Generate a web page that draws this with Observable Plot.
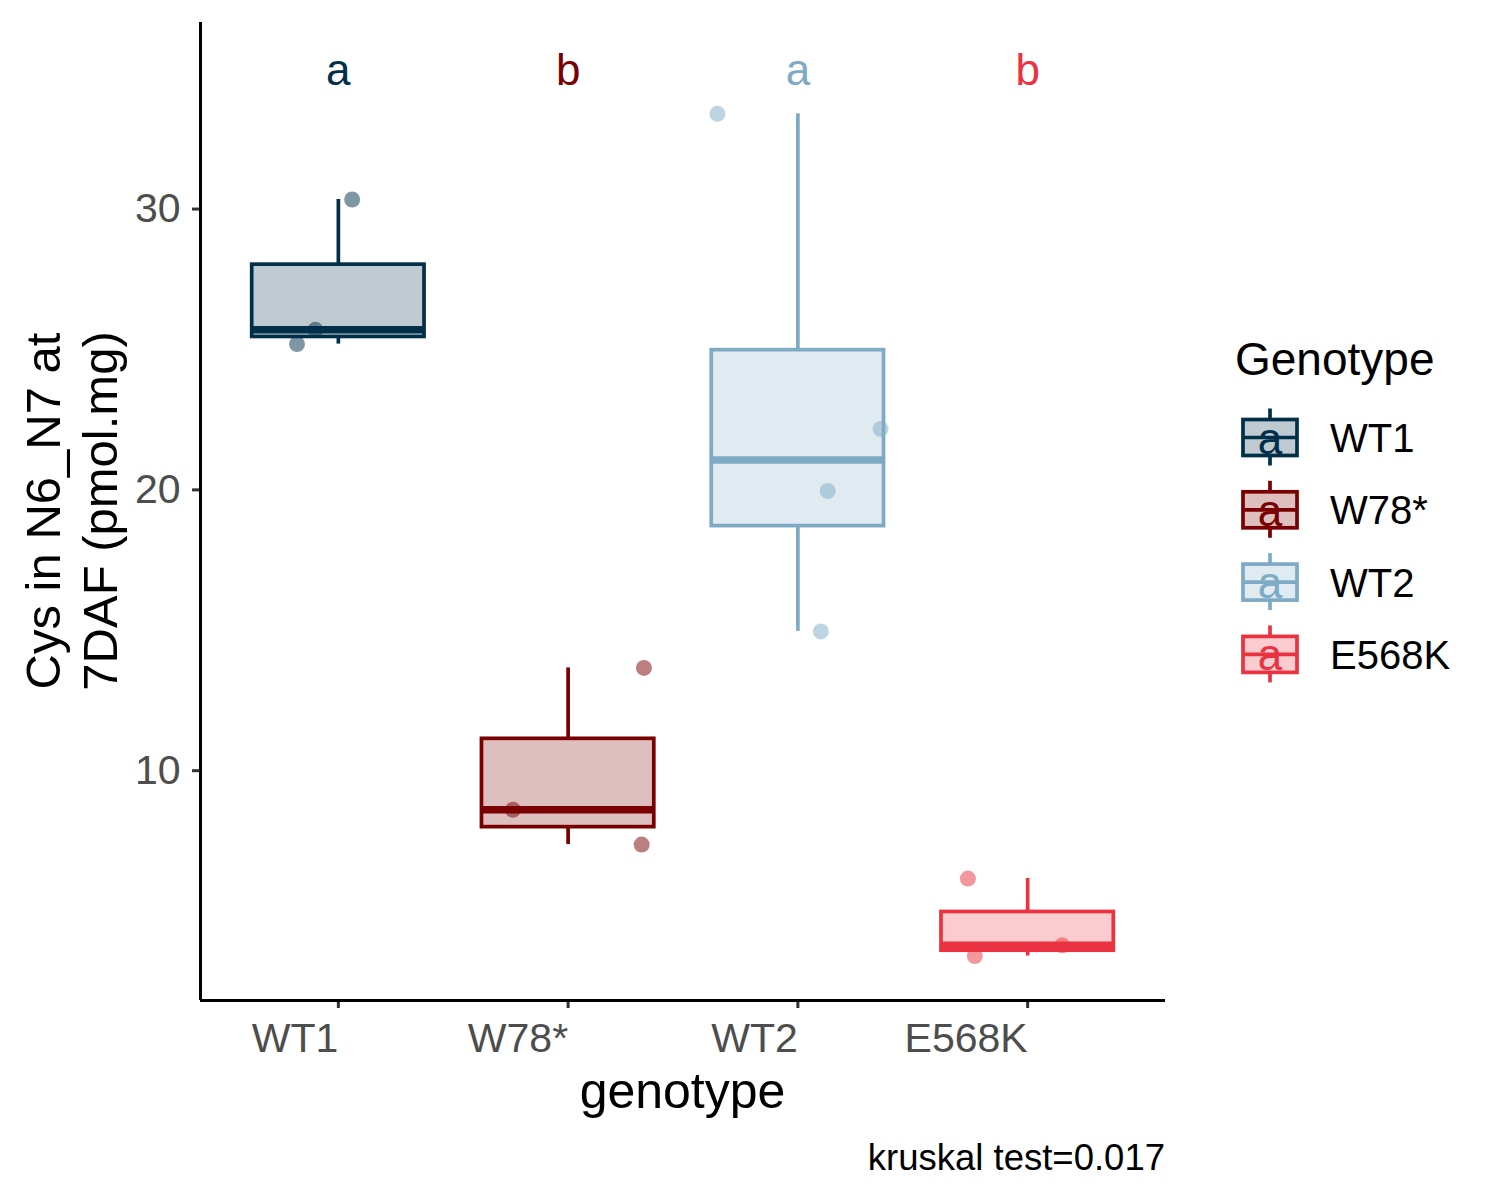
<!DOCTYPE html>
<html>
<head>
<meta charset="utf-8">
<script src="https://cdn.jsdelivr.net/npm/d3@7"></script>
<script src="https://cdn.jsdelivr.net/npm/@observablehq/plot@0.6"></script>
<style>
  html, body { margin: 0; padding: 0; background: white; }
  #chart { width: 1500px; height: 1200px; overflow: hidden; }
</style>
</head>
<body>
<div id="chart"></div>
<script>
// ---- data ----
const genotypes = ["WT1", "W78*", "WT2", "E568K"];
const colors = ["#003049", "#780000", "#7eaac6", "#ea3240"];
const letters = ["a", "b", "a", "b"];
const pointGenotype = ["WT1","WT1","WT1","W78*","W78*","W78*","WT2","WT2","WT2","WT2","E568K","E568K","E568K"];
const pointValue = [30.34, 25.70, 25.19, 13.66, 8.61, 7.37, 33.39, 22.17, 19.96, 14.96, 6.16, 3.78, 3.40];
const pointJitter = [0.06, -0.10, -0.18, 0.33, -0.24, 0.32, -0.35, 0.36, 0.13, 0.10, -0.26, 0.15, -0.23];
const yTicks = [10, 20, 30];
const xTitle = "genotype";
const yTitleLines = ["Cys in N6_N7 at", "7DAF (pmol.mg)"];
const legendTitle = "Genotype";
const caption = "kruskal test=0.017";

// ---- derived tables ----
const points = pointValue.map((v, k) => ({
  genotype: pointGenotype[k],
  idx: genotypes.indexOf(pointGenotype[k]) + 1,
  value: v,
  jitter: pointJitter[k]
}));
const stats = genotypes.map((g, i) => {
  const vals = points.filter(p => p.genotype === g).map(p => p.value).sort(d3.ascending);
  const q1 = d3.quantile(vals, 0.25), med = d3.quantile(vals, 0.5), q3 = d3.quantile(vals, 0.75);
  const iqr = q3 - q1;
  const lo = d3.min(vals.filter(v => v >= q1 - 1.5 * iqr));
  const hi = d3.max(vals.filter(v => v <= q3 + 1.5 * iqr));
  return {genotype: g, idx: i + 1, q1, med, q3, lo, hi};
});
const labelY = d3.max(pointValue) * 1.05;
const labels = genotypes.map((g, i) => ({genotype: g, idx: i + 1, letter: letters[i], y: labelY}));
const yMin = d3.min(pointValue), yMax = labelY;
const yPad = (yMax - yMin) * 0.05;
const yDomain = [yMin - yPad, yMax + yPad];
const xDomain = [0.4, genotypes.length + 0.6];
const halfBox = 0.375;

const FONT = "'Liberation Sans', Arial, sans-serif";

const svg = Plot.plot({
  width: 1500,
  height: 1200,
  marginLeft: 200,
  marginRight: 335,
  marginTop: 22,
  marginBottom: 200,
  style: {fontFamily: FONT, fontSize: "41px", background: "white", overflow: "visible"},
  x: {domain: xDomain, label: null},
  y: {domain: yDomain, label: null},
  color: {domain: genotypes, range: colors},
  marks: [
    Plot.dot(points, {x: d => d.idx + d.jitter, y: "value", r: 8, fill: "genotype", fillOpacity: 0.5, stroke: null}),
    Plot.ruleX(stats, {x: "idx", y1: "q3", y2: "hi", stroke: "genotype", strokeWidth: 3.7}),
    Plot.ruleX(stats, {x: "idx", y1: "lo", y2: "q1", stroke: "genotype", strokeWidth: 3.7}),
    Plot.rect(stats, {x1: d => d.idx - halfBox, x2: d => d.idx + halfBox, y1: "q1", y2: "q3",
      fill: "genotype", fillOpacity: 0.25, stroke: "genotype", strokeWidth: 3.7, inset: 0}),
    Plot.ruleY(stats, {y: "med", x1: d => d.idx - halfBox, x2: d => d.idx + halfBox, stroke: "genotype", strokeWidth: 7.5}),
    Plot.text(labels, {x: "idx", y: "y", text: "letter", fill: "genotype", fontSize: 44, dy: 4}),
    Plot.axisY({ticks: yTicks, tickSize: 8, tickPadding: 12, stroke: "#333333", strokeWidth: 3, fill: "#4d4d4d", fontSize: 41, label: null}),
    Plot.axisX({ticks: genotypes.map((g, i) => i + 1), tickFormat: t => genotypes[t - 1], tickSize: 8, tickPadding: 14,
      stroke: "#333333", strokeWidth: 3, fill: "#4d4d4d", fontSize: 41, textAnchor: "end", label: null}),
    Plot.ruleX([xDomain[0]], {stroke: "black", strokeWidth: 3}),
    Plot.ruleY([yDomain[0]], {stroke: "black", strokeWidth: 3})
  ]
});

document.getElementById("chart").appendChild(svg);

// ---- titles, caption, legend ----
const s = d3.select(svg);
const plotCx = 200 + (1165 - 200) / 2;
s.append("text").attr("x", plotCx).attr("y", 1108).attr("text-anchor", "middle")
  .attr("font-family", FONT).attr("font-size", 50).attr("fill", "black").text(xTitle);

yTitleLines.forEach((line, k) => {
  s.append("text").attr("transform", `translate(${60 + k * 57},511) rotate(-90)`)
    .attr("text-anchor", "middle").attr("font-family", FONT).attr("font-size", 49)
    .attr("fill", "black").text(line);
});

s.append("text").attr("x", 1165).attr("y", 1170).attr("text-anchor", "end")
  .attr("font-family", FONT).attr("font-size", 36.5).attr("fill", "black").text(caption);

const leg = s.append("g");
leg.append("text").attr("x", 1235).attr("y", 375).attr("text-anchor", "start").attr("font-family", FONT)
  .attr("font-size", 46).attr("fill", "black").text(legendTitle);
genotypes.forEach((g, i) => {
  const cy = 437.5 + i * 72.3;
  const cx = 1270;
  const col = colors[i];
  const k = leg.append("g");
  k.append("line").attr("x1", cx).attr("x2", cx).attr("y1", cy - 29).attr("y2", cy + 28)
    .attr("stroke", col).attr("stroke-width", 3.7);
  k.append("rect").attr("x", 1243).attr("y", cy - 18).attr("width", 54).attr("height", 36)
    .attr("fill", "white");
  k.append("rect").attr("x", 1243).attr("y", cy - 18).attr("width", 54).attr("height", 36)
    .attr("fill", col).attr("fill-opacity", 0.25).attr("stroke", col).attr("stroke-width", 3.7);
  k.append("line").attr("x1", 1243).attr("x2", 1297).attr("y1", cy).attr("y2", cy)
    .attr("stroke", col).attr("stroke-width", 3.7);
  k.append("text").attr("x", cx).attr("y", cy + 16).attr("text-anchor", "middle")
    .attr("font-family", FONT).attr("font-size", 44).attr("fill", col).text(letters[0]);
  k.append("text").attr("x", 1330).attr("y", cy + 14.5).attr("text-anchor", "start").attr("font-family", FONT)
    .attr("font-size", 40).attr("fill", "black").text(g);
});
</script>
</body>
</html>
